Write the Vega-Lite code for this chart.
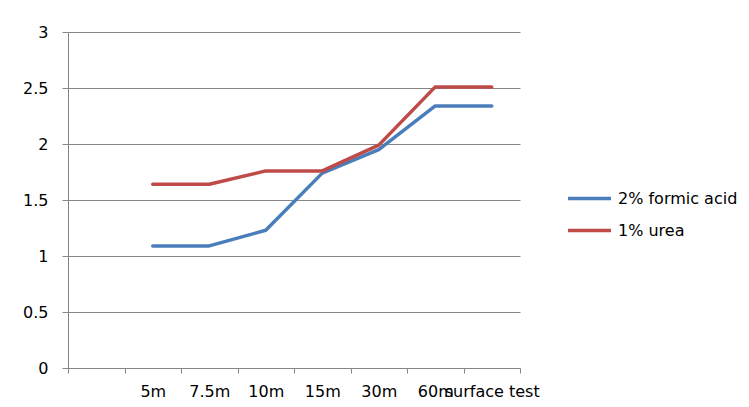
{
  "$schema": "https://vega.github.io/schema/vega-lite/v6.json",
  "width": 452,
  "height": 336,
  "autosize": {"type": "none"},
  "padding": {"left": 68, "top": 32, "right": 229, "bottom": 39},
  "background": "white",
  "config": {
    "view": {"stroke": null},
    "font": "DejaVu Sans",
    "axis": {
      "labelFont": "DejaVu Sans",
      "labelFontSize": 16,
      "labelColor": "#000000",
      "domainColor": "#868686",
      "tickColor": "#868686",
      "gridColor": "#868686",
      "gridOpacity": 1,
      "domainWidth": 1,
      "tickWidth": 1,
      "gridWidth": 1
    }
  },
  "data": {
    "values": [
      {"time": "5m", "series": "2% formic acid", "value": 1.09},
      {"time": "7.5m", "series": "2% formic acid", "value": 1.09},
      {"time": "10m", "series": "2% formic acid", "value": 1.23},
      {"time": "15m", "series": "2% formic acid", "value": 1.74},
      {"time": "30m", "series": "2% formic acid", "value": 1.95},
      {"time": "60m", "series": "2% formic acid", "value": 2.34},
      {"time": "surface test", "series": "2% formic acid", "value": 2.34},
      {"time": "5m", "series": "1% urea", "value": 1.64},
      {"time": "7.5m", "series": "1% urea", "value": 1.64},
      {"time": "10m", "series": "1% urea", "value": 1.76},
      {"time": "15m", "series": "1% urea", "value": 1.76},
      {"time": "30m", "series": "1% urea", "value": 1.99},
      {"time": "60m", "series": "1% urea", "value": 2.51},
      {"time": "surface test", "series": "1% urea", "value": 2.51}
    ]
  },
  "mark": {"type": "line", "strokeWidth": 3.5, "strokeCap": "round", "strokeJoin": "round"},
  "encoding": {
    "x": {
      "field": "time",
      "type": "nominal",
      "bandPosition": 0.5,
      "scale": {
        "type": "band",
        "domain": ["", "5m", "7.5m", "10m", "15m", "30m", "60m", "surface test"],
        "paddingInner": 0,
        "paddingOuter": 0
      },
      "axis": {
        "title": null,
        "labelAngle": 0,
        "grid": false,
        "tickBand": "extent",
        "tickSize": 5,
        "labelPadding": 10,
        "labelOverlap": false,
        "labelBound": false
      }
    },
    "y": {
      "field": "value",
      "type": "quantitative",
      "scale": {"domain": [0, 3], "nice": false, "zero": true},
      "axis": {
        "title": null,
        "values": [0, 0.5, 1, 1.5, 2, 2.5, 3],
        "format": "~g",
        "tickSize": 6,
        "labelPadding": 14
      }
    },
    "color": {
      "field": "series",
      "type": "nominal",
      "scale": {
        "domain": ["2% formic acid", "1% urea"],
        "range": ["#4a7ebb", "#be4b48"]
      },
      "legend": {
        "title": null,
        "orient": "none",
        "legendX": 498,
        "legendY": 143,
        "padding": 0,
        "symbolType": "stroke",
        "symbolSize": 1849,
        "symbolStrokeWidth": 3.5,
        "labelFont": "DejaVu Sans",
        "labelFontSize": 16,
        "labelColor": "#000000",
        "labelOffset": 5,
        "rowPadding": -11,
        "labelLimit": 250
      }
    }
  }
}
